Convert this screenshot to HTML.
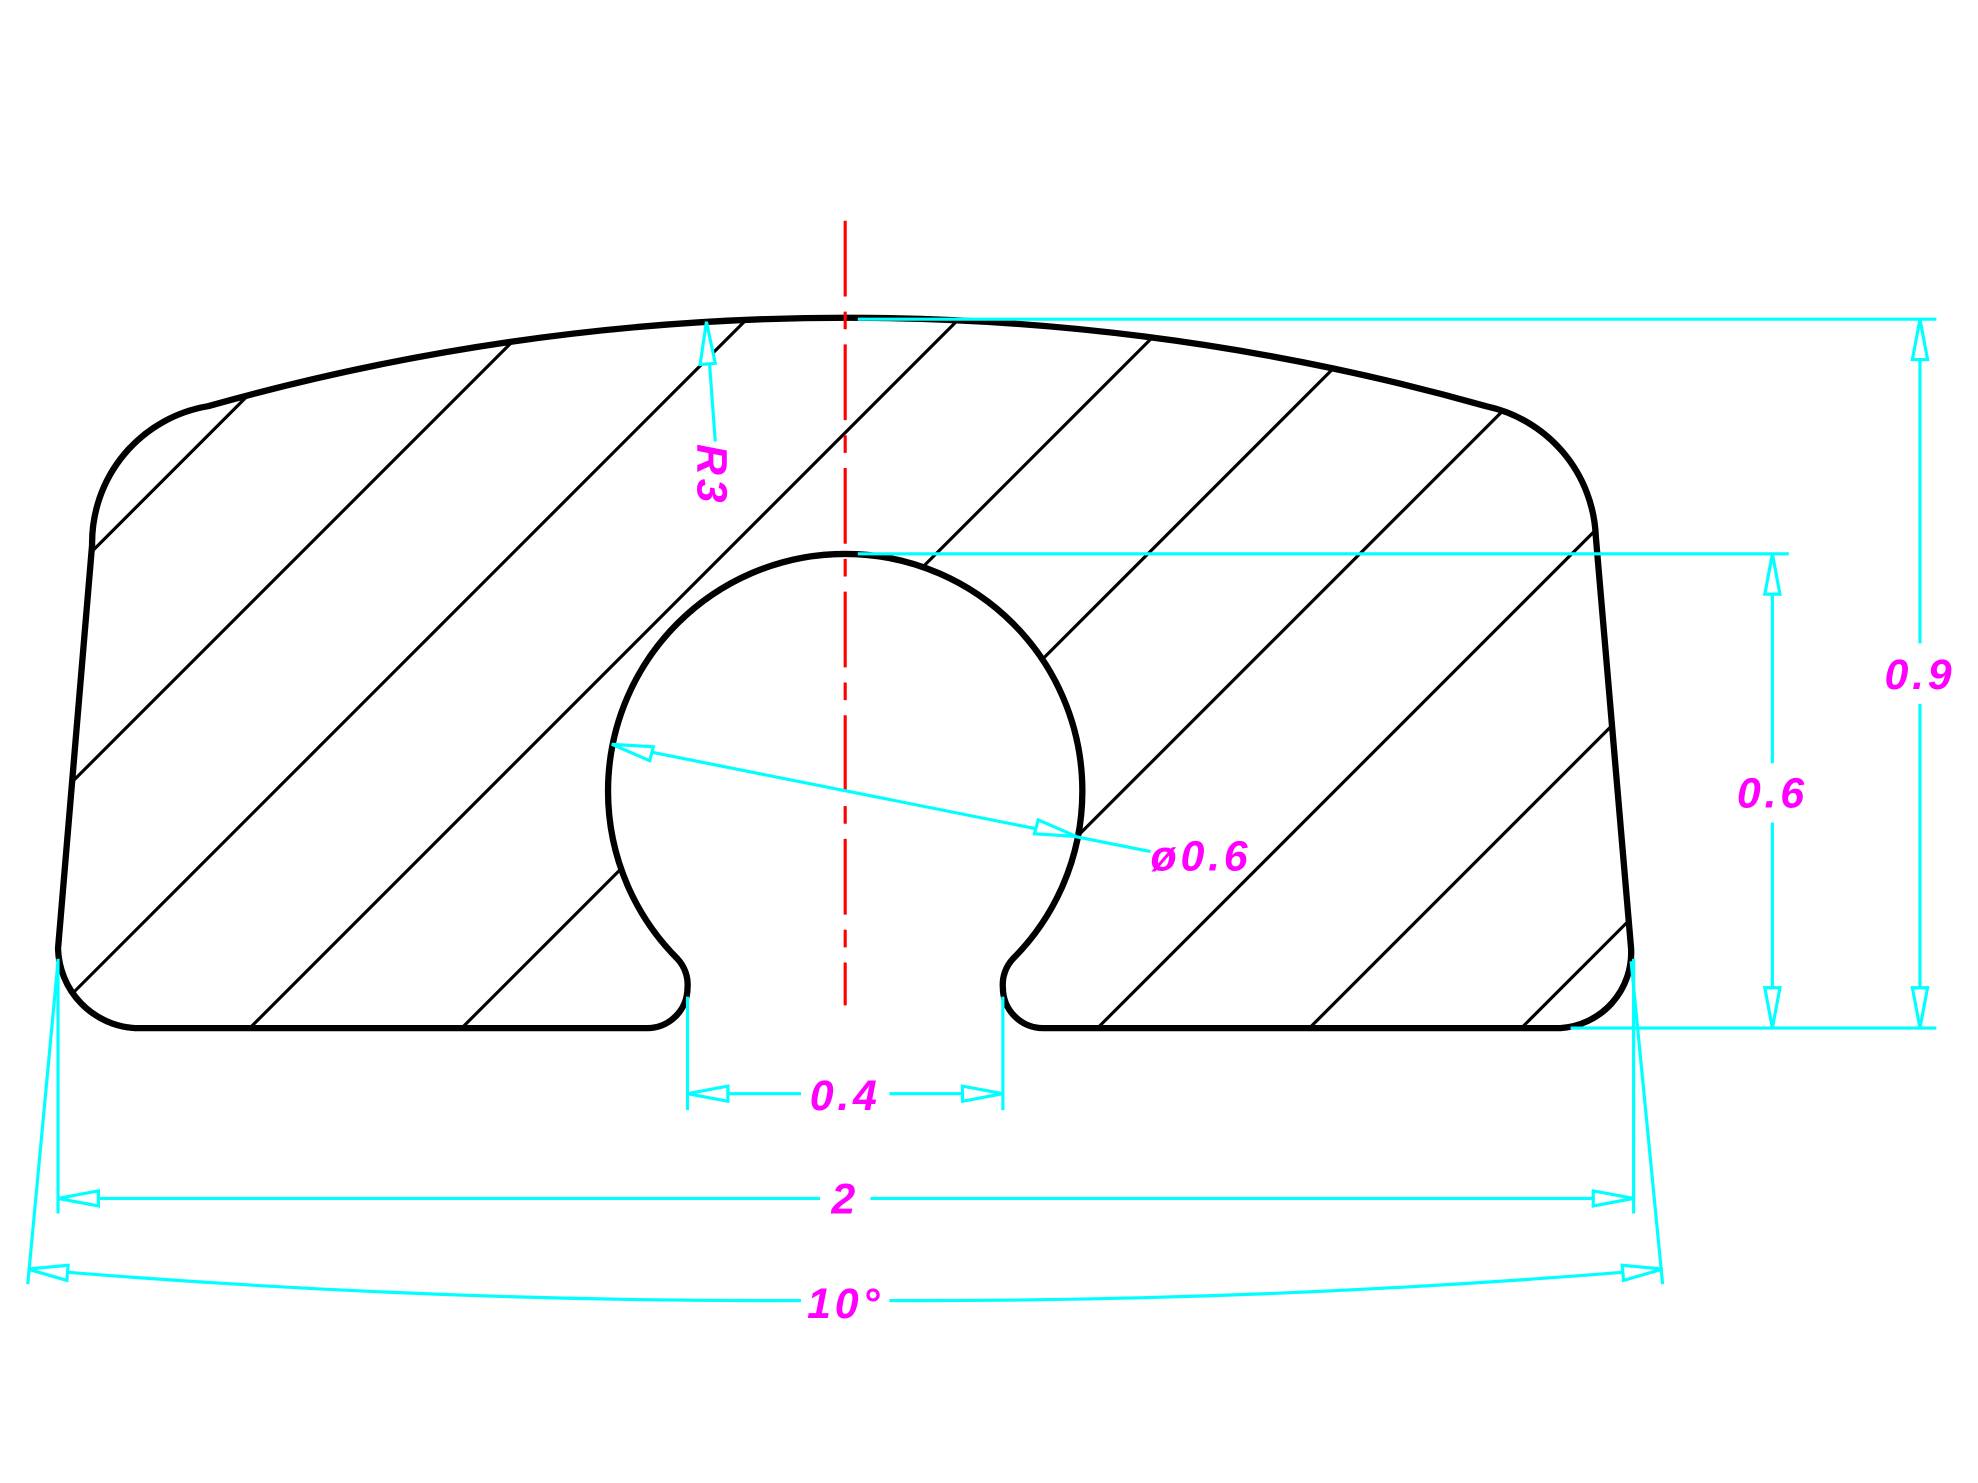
<!DOCTYPE html>
<html><head><meta charset="utf-8"><style>
html,body{margin:0;padding:0;background:#fff;width:1978px;height:1483px;overflow:hidden;position:relative;}
svg{display:block;position:absolute;left:0;top:0;}
text{font-family:"Liberation Sans",sans-serif;font-style:italic;font-weight:bold;fill:#ff00ff;font-size:34px;letter-spacing:3px;}
</style></head><body>
<svg width="1978" height="1483" viewBox="0 0 1568 1175.6" preserveAspectRatio="none" xmlns="http://www.w3.org/2000/svg">
<defs>
<clipPath id="c"><path id="shp" d="M165,322 A1864,1864 0 0 1 1178,322 A110,110 0 0 1 1265,425 L1293,752 A60,60 0 0 1 1237,815 L827,815 A32,32 0 0 1 795,783 A30,30 0 0 1 803,760 A188,188 0 1 0 537,760 A30,30 0 0 1 545,783 A32,32 0 0 1 513,815 L107,815 A65,65 0 0 1 46,752 L73,432 A110,110 0 0 1 165,322 Z"/></clipPath>
</defs>
<rect width="1568" height="1175" fill="#fff"/>
<g clip-path="url(#c)" stroke="#000" stroke-width="2.5">
<line x1="0" y1="510" x2="510" y2="0"/>
<line x1="0" y1="677" x2="677" y2="0"/>
<line x1="0" y1="845" x2="845" y2="0"/>
<line x1="0" y1="1013" x2="1013" y2="0"/>
<line x1="0" y1="1181" x2="1181" y2="0"/>
<line x1="0" y1="1349" x2="1349" y2="0"/>
<line x1="0" y1="1517" x2="1517" y2="0"/>
<line x1="0" y1="1685" x2="1685" y2="0"/>
<line x1="0" y1="1853" x2="1853" y2="0"/>
<line x1="0" y1="2021" x2="2021" y2="0"/>
</g>
<use href="#shp" fill="none" stroke="#000" stroke-width="5"/>
<line x1="670" y1="175" x2="670" y2="797" stroke="#f00" stroke-width="2.5" stroke-dasharray="60,12,14,12"/>
<g stroke="#00ffff" stroke-width="2.5" fill="#fff">
<line x1="680" y1="253" x2="1535" y2="253"/>
<line x1="1245" y1="815" x2="1535" y2="815"/>
<line x1="1522" y1="253" x2="1522" y2="510"/>
<line x1="1522" y1="558" x2="1522" y2="815"/>
<polygon points="1522,253 1516,285 1528,285"/>
<polygon points="1522,815 1516,783 1528,783"/>
<line x1="680" y1="439" x2="1418" y2="439"/>
<line x1="1405" y1="439" x2="1405" y2="605"/>
<line x1="1405" y1="652" x2="1405" y2="815"/>
<polygon points="1405,439 1399,471 1411,471"/>
<polygon points="1405,815 1399,783 1411,783"/>
<line x1="545" y1="790" x2="545" y2="880"/>
<line x1="795" y1="790" x2="795" y2="880"/>
<line x1="545" y1="867" x2="635" y2="867"/>
<line x1="705" y1="867" x2="795" y2="867"/>
<polygon points="545,867 577,861 577,873"/>
<polygon points="795,867 763,861 763,873"/>
<line x1="46" y1="760" x2="46" y2="962"/>
<line x1="1295" y1="760" x2="1295" y2="962"/>
<line x1="46" y1="950" x2="650" y2="950"/>
<line x1="690" y1="950" x2="1295" y2="950"/>
<polygon points="46,950 78,944 78,956"/>
<polygon points="1295,950 1263,944 1263,956"/>
<line x1="46" y1="762" x2="22" y2="1018"/>
<line x1="1293" y1="762" x2="1318" y2="1018"/>
<path d="M22,1006 Q330,1032 635,1031" fill="none"/>
<path d="M705,1031 Q1010,1032 1318,1006" fill="none"/>
<polygon points="22,1006 54,1003 53,1015"/>
<polygon points="1318,1006 1286,1003 1287,1015"/>
<line x1="485" y1="590" x2="912" y2="675"/>
<polygon points="485,590 518,592 515,603"/>
<polygon points="853,663 820,661 823,650"/>
<line x1="560" y1="255" x2="567" y2="350"/>
<polygon points="560,255 555,289 567,288"/>
</g>
<text x="1522" y="546" text-anchor="middle">0.9</text>
<text x="1405" y="640" text-anchor="middle">0.6</text>
<text x="670" y="880" text-anchor="middle">0.4</text>
<text x="670" y="962" text-anchor="middle">2</text>
<text x="670" y="1045" text-anchor="middle">10°</text>
<text x="912" y="690">ø0.6</text>
<text transform="translate(553,352) rotate(90)" x="0" y="0" font-size="32">R3</text>
</svg>
</body></html>
